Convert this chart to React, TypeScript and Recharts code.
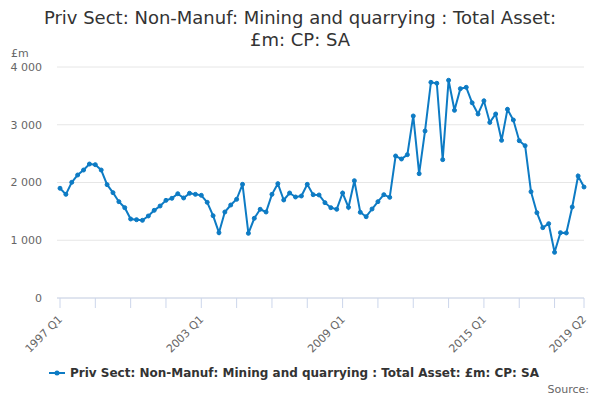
import React from 'react';
import { LineChart, Line, XAxis, YAxis, CartesianGrid } from 'recharts';

const FONT = '"DejaVu Sans", sans-serif';
const LINE_COLOUR = '#0d7bc4';
const SERIES_NAME = 'Priv Sect: Non-Manuf: Mining and quarrying : Total Asset: £m: CP: SA';

// quarters 1997 Q1 .. 2019 Q2
const START_YEAR = 1997;
const QUARTER_COUNT = 90;

// £m
const assetValues = [
  1900, 1795, 2003, 2130, 2216, 2320, 2309, 2216, 1963, 1824,
  1668, 1564, 1368, 1356, 1345, 1420, 1518, 1593, 1691, 1726,
  1806, 1732, 1813, 1795, 1778, 1657, 1425, 1131, 1489, 1610,
  1709, 1968, 1120, 1380, 1536, 1489, 1795, 1980, 1697, 1818,
  1749, 1766, 1968, 1789, 1784, 1651, 1564, 1536, 1818, 1570,
  2031, 1484, 1408, 1541, 1668, 1789, 1743, 2459, 2407, 2482,
  3152, 2153, 2892, 3735, 3718, 2396, 3770, 3250, 3625, 3648,
  3380, 3186, 3414, 3040, 3186, 2730, 3267, 3082, 2724, 2637,
  1841, 1477, 1218, 1287, 791, 1131, 1126, 1576, 2113, 1922,
];

const yTicks = [0, 1000, 2000, 3000, 4000];
const labelledQuarters = ['1997 Q1', '2003 Q1', '2009 Q1', '2015 Q1', '2019 Q2'];

const quarterLabels = Array.from({ length: QUARTER_COUNT }, (_, i) =>
  `${START_YEAR + Math.floor(i / 4)} Q${(i % 4) + 1}`
);
const xTicks = quarterLabels.filter((_, i) => i % 6 === 0 || i === QUARTER_COUNT - 1);

const data = quarterLabels.map((q, i) => ({ q, value: assetValues[i] }));

const formatThousands = (v: number) =>
  String(v).replace(/\B(?=(\d{3})+(?!\d))/g, ' ');

function QuarterTick(props: any) {
  const { x, y, payload } = props;
  if (!labelledQuarters.includes(payload.value)) return null;
  return (
    <text
      x={x + 3}
      y={y + 10}
      transform={`rotate(-45 ${x + 3} ${y + 10})`}
      textAnchor="end"
      fill="#666666"
      fontSize={11}
      fontFamily={FONT}
    >
      {payload.value}
    </text>
  );
}

export default function App() {
  return (
    <div style={{ position: 'absolute', left: 0, top: 0, width: 600, height: 400, fontFamily: FONT, background: '#fff' }}>
      <div style={{ position: 'absolute', top: 7, left: 0, width: 600, textAlign: 'center', fontSize: 18, lineHeight: '22px', color: '#333333' }}>
        <div>Priv Sect: Non-Manuf: Mining and quarrying : Total Asset:</div>
        <div>£m: CP: SA</div>
      </div>
      <div style={{ position: 'absolute', top: 47, left: 11, fontSize: 11, color: '#666666' }}>£m</div>
      <LineChart
        width={600}
        height={400}
        data={data}
        margin={{ top: 67, right: 16, bottom: 0, left: 0 }}
      >
        <CartesianGrid vertical={false} stroke="#e6e6e6" />
        <XAxis
          dataKey="q"
          ticks={xTicks}
          interval={0}
          height={102}
          padding={{ left: 3, right: 0 }}
          stroke="#ccd6eb"
          tickSize={10}
          tick={<QuarterTick />}
        />
        <YAxis
          domain={[0, 4000]}
          ticks={yTicks}
          width={57}
          axisLine={false}
          tickLine={false}
          tickSize={0}
          tickMargin={15}
          tickFormatter={formatThousands}
          tick={{ fill: '#666666', fontSize: 11, fontFamily: FONT }}
        />
        <Line
          type="linear"
          dataKey="value"
          stroke={LINE_COLOUR}
          strokeWidth={2}
          dot={{ r: 2, fill: LINE_COLOUR, stroke: LINE_COLOUR, strokeWidth: 1 }}
          isAnimationActive={false}
        />
      </LineChart>
      <div style={{ position: 'absolute', top: 366, left: -6, width: 600, display: 'flex', justifyContent: 'center', alignItems: 'center' }}>
        <svg width={16} height={10} style={{ marginRight: 5 }}>
          <line x1={0} y1={5} x2={16} y2={5} stroke={LINE_COLOUR} strokeWidth={2} />
          <circle cx={8} cy={5} r={2.5} fill={LINE_COLOUR} />
        </svg>
        <span style={{ fontSize: 12, fontWeight: 'bold', color: '#333333' }}>{SERIES_NAME}</span>
      </div>
      <div style={{ position: 'absolute', top: 383, right: 11, fontSize: 11, color: '#666666' }}>Source:</div>
    </div>
  );
}
